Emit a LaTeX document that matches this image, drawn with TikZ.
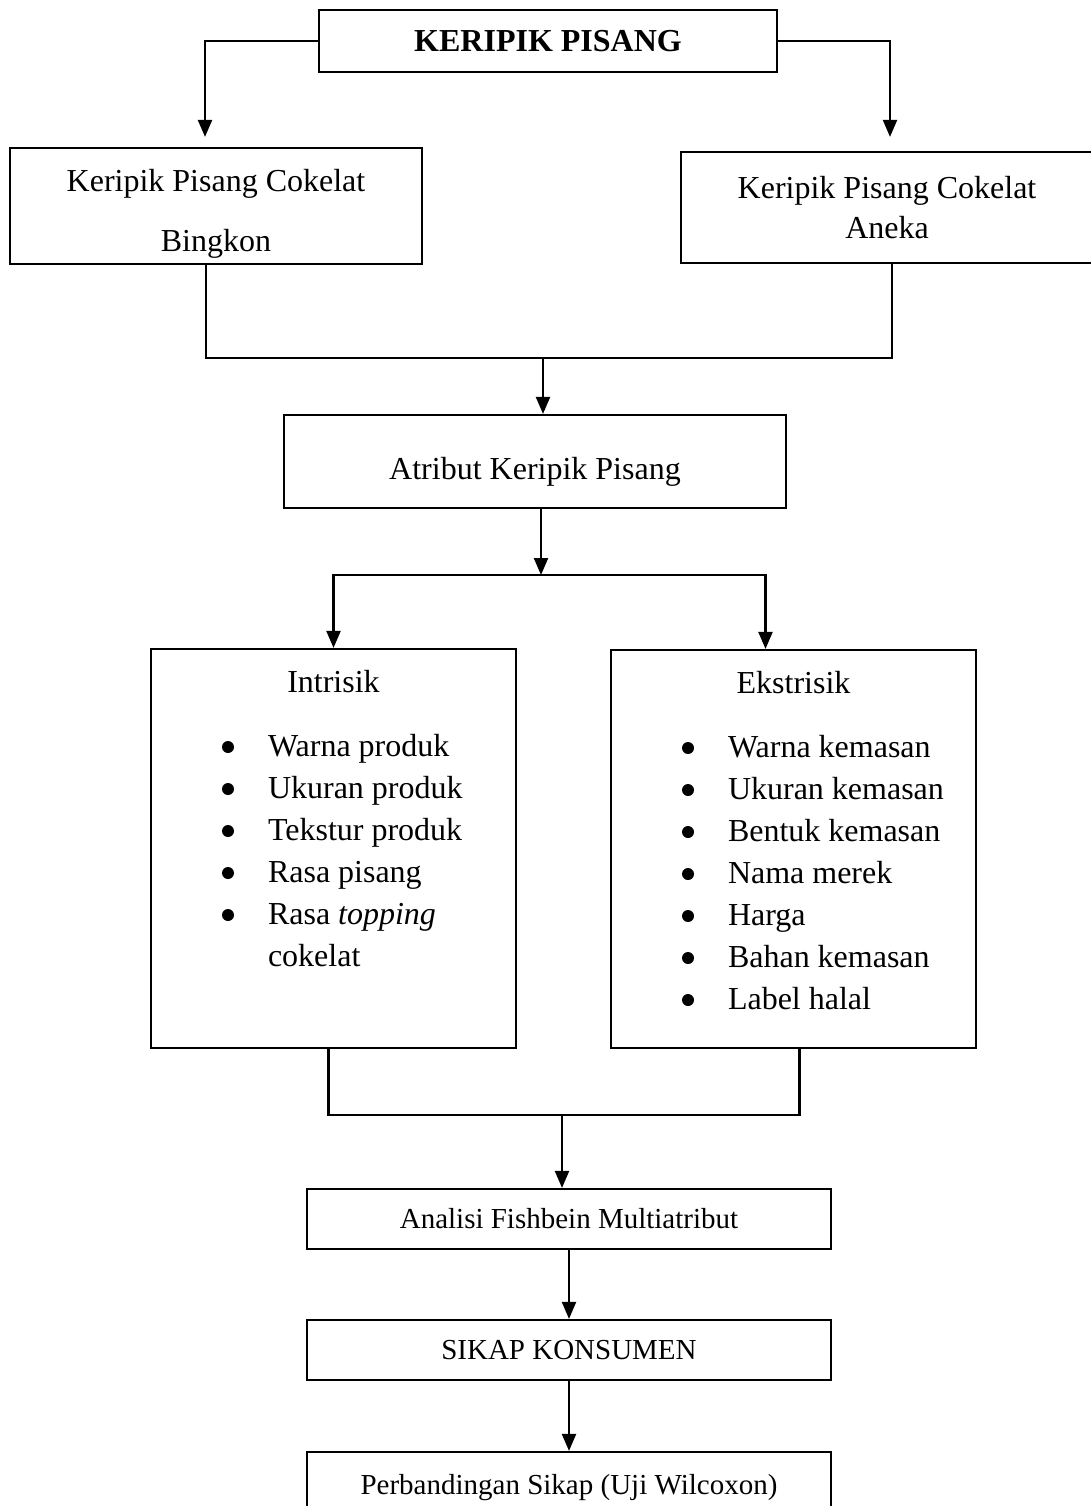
\documentclass[tikz,border=0pt]{standalone}
\usepackage{fontspec}
\setmainfont{Liberation Serif}
\usetikzlibrary{arrows.meta}

% bullet line inside the attribute panels
\newcommand{\butir}[1]{\leavevmode\llap{\makebox[46pt][l]{\tikz[x=1cm, y=1cm, baseline=-9pt]\fill (0,0) circle (6pt);}}#1\par}

\begin{document}
\begin{tikzpicture}[x=1pt, y=-1pt,
    every node/.style={font=\fontsize{32}{42}\selectfont},
    kotak/.style={draw, line width=2.2pt, inner sep=0pt, align=center},
    panel/.style={draw, line width=2.2pt, inner sep=0pt},
    kecil/.style={font=\fontsize{29}{36}\selectfont},
    garis/.style={line width=2.2pt},
    panah/.style={line width=2.2pt, -{Triangle[length=17pt,width=14pt]}}]

\useasboundingbox (0,0) rectangle (1091,1506);

% --- TOP: PRODUCT AND THE TWO BRANDS ---
\node[kotak, minimum width=458pt, minimum height=62pt,
      font=\fontsize{32}{42}\selectfont\bfseries] (top) at (548,41) {KERIPIK PISANG};
\node[kotak, minimum width=412pt, minimum height=116pt,
      font=\fontsize{32}{60}\selectfont] (bing) at (216,206) {\rule{0pt}{37pt}Keripik Pisang Cokelat\\Bingkon};
\node[kotak, minimum width=412pt, minimum height=111pt,
      font=\fontsize{32}{40}\selectfont] (anek) at (887,207.5) {Keripik Pisang Cokelat\\Aneka};

\draw[panah, shorten >=10pt] (top.west) -| ([xshift=-11pt]bing.north);
\draw[panah, shorten >=14pt] (top.east) -| ([xshift=3pt]anek.north);

\coordinate (j1) at (543,358);
\draw[garis] ([xshift=-10pt]bing.south) |- (j1) -| ([xshift=5pt]anek.south);

% --- MIDDLE: ATTRIBUTES ---
\node[kotak, minimum width=502pt, minimum height=93pt] (atr) at (535,461.5) {\rule{0pt}{43pt}Atribut Keripik Pisang};
\draw[panah] (j1) -- (j1 |- atr.north);

\node[panel] (intr) at (333.5,848.5) {%
  \begin{minipage}[c][399pt][t]{365pt}
    \centering\rule{0pt}{43pt}Intrisik\par
    \vspace{22pt}
    \raggedright\leftskip=117pt
    \butir{Warna produk}
    \butir{Ukuran produk}
    \butir{Tekstur produk}
    \butir{Rasa pisang}
    \butir{Rasa \textit{topping}}
    cokelat\par
  \end{minipage}};
\node[panel] (ekst) at (793.5,849) {%
  \begin{minipage}[c][398pt][t]{365pt}
    \centering\rule{0pt}{43pt}Ekstrisik\par
    \vspace{22pt}
    \raggedright\leftskip=117pt
    \butir{Warna kemasan}
    \butir{Ukuran kemasan}
    \butir{Bentuk kemasan}
    \butir{Nama merek}
    \butir{Harga}
    \butir{Bahan kemasan}
    \butir{Label halal}
  \end{minipage}};

\coordinate (j2) at (541,575);
\draw[panah] (atr.south -| j2) -- (j2);
\draw[panah] (j2) -| (intr.north);
\draw[panah] (j2) -| ([xshift=-28pt]ekst.north);

% --- BOTTOM: ANALYSIS CHAIN ---
\node[kotak, kecil, minimum width=524pt, minimum height=60pt] (fish) at (569,1219) {Analisi Fishbein Multiatribut};
\node[kotak, kecil, minimum width=524pt, minimum height=60pt] (sikap) at (569,1350) {SIKAP KONSUMEN};
\node[kotak, kecil, minimum width=524pt, minimum height=58pt] (perb) at (569,1481) {\rule{0pt}{33pt}Perbandingan Sikap (Uji Wilcoxon)};

\coordinate (j3) at (562,1115);
\draw[garis] ([xshift=-5pt]intr.south) |- (j3) -| ([xshift=6pt]ekst.south);
\draw[panah] (j3) -- (j3 |- fish.north);
\draw[panah] (fish.south) -- (sikap.north);
\draw[panah] (sikap.south) -- (perb.north);

\end{tikzpicture}
\end{document}
